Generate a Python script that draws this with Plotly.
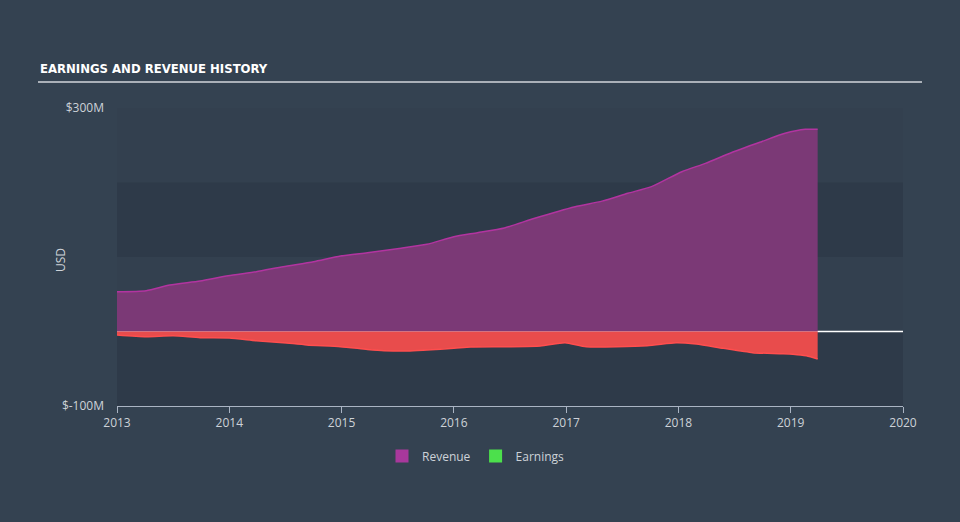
import plotly.graph_objects as go

# Revenue (USD millions), decimal-year dates
rev_t = [2013.0, 2013.26, 2013.47, 2013.74, 2013.99, 2014.24, 2014.48, 2014.75, 2014.99,
         2015.23, 2015.53, 2015.76, 2016.0, 2016.21, 2016.45, 2016.72, 2017.08, 2017.32,
         2017.55, 2017.76, 2018.03, 2018.24, 2018.47, 2018.74, 2018.95, 2019.13, 2019.24]
rev_v = [53.4, 54.8, 62.4, 67.8, 74.9, 80.3, 87.0, 93.7, 101.3,
         105.8, 111.7, 117.0, 127.3, 132.6, 139.0, 152.0, 167.5, 175.0,
         185.5, 194.4, 214.5, 225.7, 240.0, 254.8, 266.0, 271.4, 271.4]

# Earnings (USD millions)
earn_t = [2013.0, 2013.26, 2013.5, 2013.74, 2014.0, 2014.24, 2014.48, 2014.69, 2014.99,
          2015.23, 2015.38, 2015.59, 2015.76, 2016.0, 2016.15, 2016.45, 2016.77, 2016.99,
          2017.18, 2017.72, 2017.98, 2018.16, 2018.4, 2018.66, 2018.9, 2019.02, 2019.14, 2019.24]
earn_v = [-4.7, -7.0, -5.7, -8.3, -8.7, -12.3, -15.0, -18.0, -20.4,
          -24.0, -25.7, -26.2, -24.8, -22.6, -20.8, -20.4, -19.5, -15.0,
          -20.4, -19.0, -15.0, -16.8, -22.6, -28.4, -29.7, -30.4, -32.6, -37.0]

x_ticks = [2013, 2014, 2015, 2016, 2017, 2018, 2019, 2020]
y_ticks = [-100, 300]
y_tick_text = ["$-100M", "$300M"]

BG = "rgb(52,66,81)"
PLOT_BG = "rgb(51,64,79)"
BAND = "rgb(46,58,73)"
TXT = "rgb(205,210,216)"

fig = go.Figure()

fig.add_trace(go.Scatter(
    x=rev_t, y=rev_v, mode="lines", fill="tozeroy",
    line=dict(color="rgb(178,52,160)", width=1.5, shape="spline", smoothing=0.6),
    fillcolor="rgb(123,57,118)", showlegend=False, hoverinfo="skip"))

fig.add_trace(go.Scatter(
    x=earn_t, y=earn_v, mode="lines", fill="tozeroy",
    line=dict(color="rgb(255,78,78)", width=1.5, shape="spline", smoothing=0.6),
    fillcolor="rgb(232,76,76)", showlegend=False, hoverinfo="skip"))

# legend entries
fig.add_trace(go.Scatter(x=[None], y=[None], mode="markers", name="Revenue",
                         marker=dict(symbol="square", size=13, color="rgb(168,56,156)")))
fig.add_trace(go.Scatter(x=[None], y=[None], mode="markers", name="Earnings",
                         marker=dict(symbol="square", size=13, color="rgb(76,224,76)")))

shapes = [
    dict(type="rect", xref="paper", x0=0, x1=1, yref="y", y0=100, y1=200,
         fillcolor=BAND, line=dict(width=0), layer="below"),
    dict(type="rect", xref="paper", x0=0, x1=1, yref="y", y0=-100, y1=0,
         fillcolor=BAND, line=dict(width=0), layer="below"),
    dict(type="line", xref="paper", x0=0, x1=1, yref="y", y0=0, y1=0,
         line=dict(color="white", width=1.5), layer="below"),
    dict(type="line", xref="paper", x0=(38 - 117) / 786, x1=(922 - 117) / 786,
         yref="paper", y0=(406 - 82) / 298, y1=(406 - 82) / 298,
         line=dict(color="rgb(170,176,184)", width=2)),
]

fig.update_layout(
    width=960, height=522,
    margin=dict(l=117, r=57, t=108, b=116),
    paper_bgcolor=BG, plot_bgcolor=PLOT_BG,
    shapes=shapes,
    font=dict(family="Open Sans", size=12, color=TXT),
    showlegend=True,
    legend=dict(orientation="h", x=(476 - 117) / 786, xanchor="center",
                y=(406 - 456) / 298, yanchor="middle",
                font=dict(size=12, color=TXT), bgcolor="rgba(0,0,0,0)", itemwidth=30),
    annotations=[
        dict(text="<b>EARNINGS AND REVENUE HISTORY</b>", xref="paper", yref="paper",
             x=(38 - 117) / 786, y=(406 - 68) / 298, xanchor="left", yanchor="middle",
             showarrow=False,
             font=dict(family="DejaVu Sans Condensed, Liberation Sans Narrow, sans-serif",
                       size=13, color="white")),
        dict(text="USD", xref="paper", yref="paper", x=(60 - 117) / 786, y=(406 - 260) / 298,
             xanchor="center", yanchor="middle", textangle=-90, showarrow=False,
             font=dict(size=12, color=TXT)),
    ],
    xaxis=dict(range=[2013, 2020], tickvals=x_ticks, ticktext=[str(v) for v in x_ticks],
               showgrid=False, zeroline=False, showline=True, linecolor="rgb(170,180,195)",
               linewidth=1, ticks="outside", ticklen=6, tickcolor="rgb(170,180,195)",
               tickfont=dict(size=12, color=TXT)),
    yaxis=dict(range=[-100, 300], tickvals=y_ticks, ticktext=y_tick_text,
               showgrid=False, zeroline=False, showline=False, ticks="",
               ticklabelstandoff=12,
               tickfont=dict(size=12, color=TXT)),
)

fig.write_html("out.html")
